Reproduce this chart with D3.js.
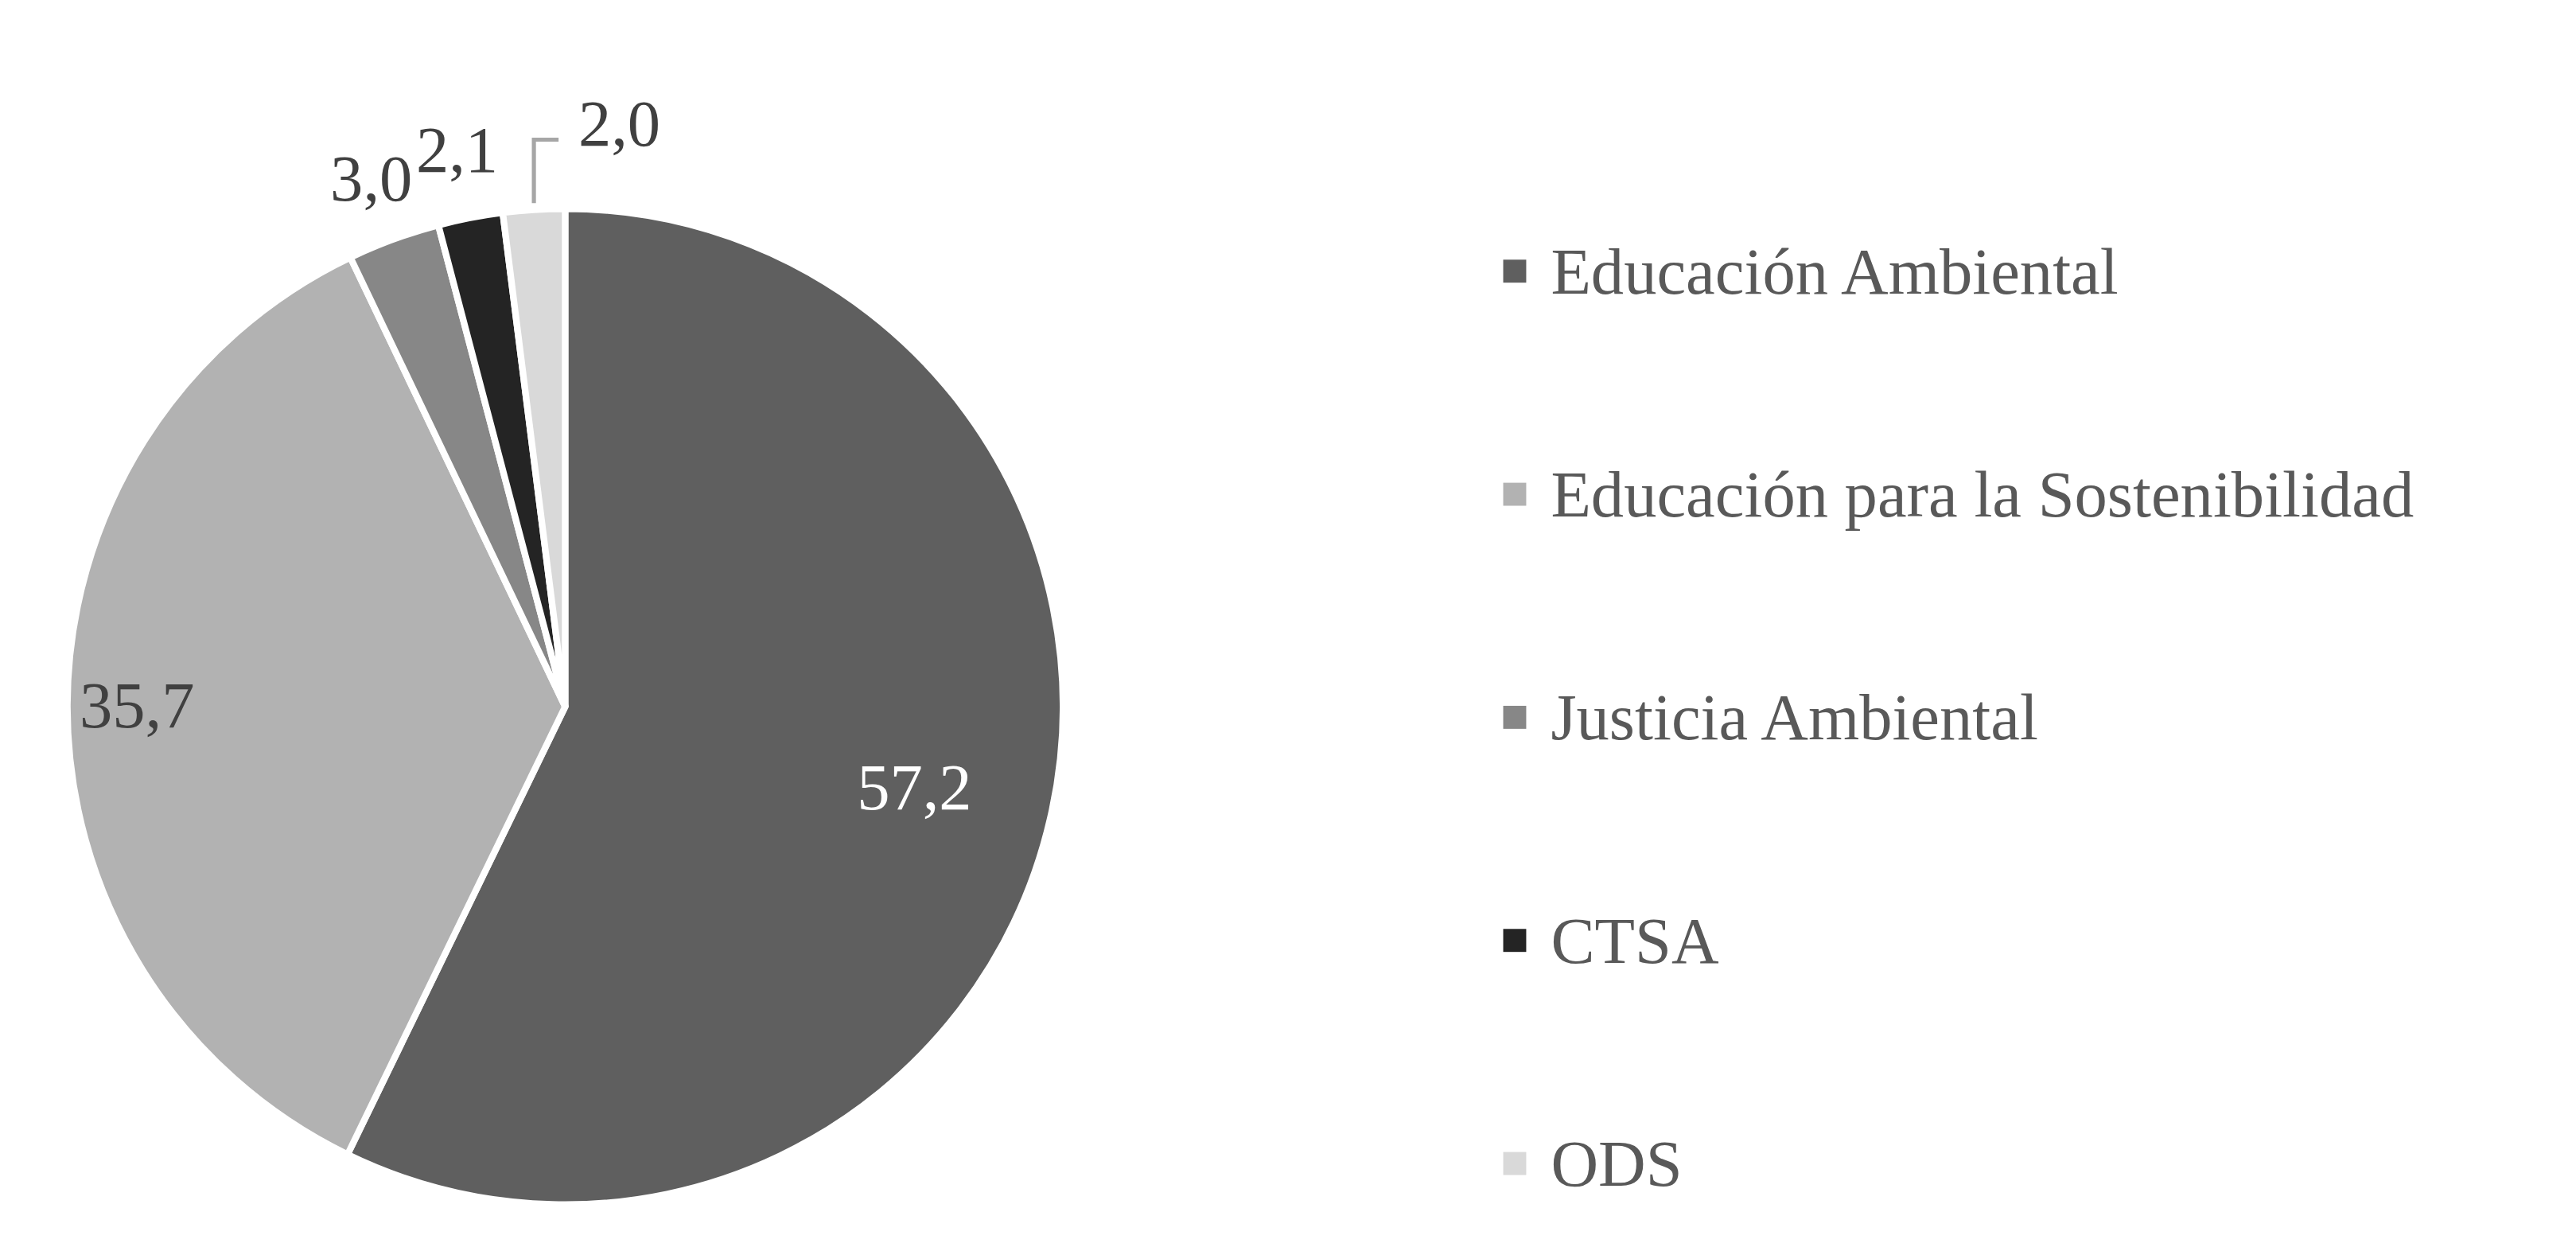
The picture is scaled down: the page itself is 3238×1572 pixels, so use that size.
<!DOCTYPE html>
<html><head><meta charset="utf-8">
<script src="https://cdn.jsdelivr.net/npm/d3@7"></script>
<style>body{margin:0;background:#fff}</style>
</head><body><svg id="chart"></svg>
<script>
const categories = ["Educación Ambiental", "Educación para la Sostenibilidad", "Justicia Ambiental", "CTSA", "ODS"];
const values = [57.2, 35.7, 3.0, 2.1, 2.0];
const colors = ["#5f5f5f", "#b2b2b2", "#878787", "#242424", "#d9d9d9"];
const labels = ["57,2", "35,7", "3,0", "2,1", "2,0"];

const W = 3238, H = 1572, s = W / 1568;
const svg = d3.select("#chart").attr("width", W).attr("height", H);
const cx = 344 * s, cy = 430 * s, r = 303 * s;
const g = svg.append("g").attr("transform", `translate(${cx},${cy})`);

const pie = d3.pie().sort(null).value(d => d);
const arcs = pie(values);
const arc = d3.arc().innerRadius(0).outerRadius(r);

g.selectAll("path").data(arcs).enter().append("path")
  .attr("d", arc)
  .attr("fill", (d, i) => colors[i])
  .attr("stroke", "#fff").attr("stroke-width", 4 * s);

// data labels (positions relative to arc angle)
const font = "'Liberation Serif', 'Times New Roman', serif";
const labelPos = [
  {a: null, rr: 0.72},
  {a: null, rr: 0.86},
  {a: null, rr: 1.13},
  {a: null, rr: 1.13},
];
arcs.forEach((d, i) => {
  const mid = (d.startAngle + d.endAngle) / 2;
  let rr = [0.72, 0.86, 1.13, 1.14, 1.2][i];
  let x = Math.sin(mid) * r * rr, y = -Math.cos(mid) * r * rr;
  if (i === 4) { x = 33 * s; y = -355 * s; }
  g.append("text").attr("x", x).attr("y", y)
    .attr("text-anchor", "middle").attr("dominant-baseline", "central")
    .style("font-family", font).style("font-size", 40 * s + "px")
    .attr("fill", i === 0 ? "#fff" : "#404040")
    .text(labels[i]);
});
// leader line for ODS
{
  const d = arcs[4], mid = (d.startAngle + d.endAngle) / 2;
  const x0 = Math.sin(mid) * r, y0 = -Math.cos(mid) * r;
  g.append("path")
    .attr("d", `M${x0},${y0 - 4 * s}V${-345 * s}H${-4 * s}`)
    .attr("fill", "none").attr("stroke", "#a6a6a6").attr("stroke-width", 2.5 * s);
}

// legend
const leg = svg.append("g");
const ly = d3.scalePoint().domain(categories).range([165 * s, 708 * s]);
categories.forEach((c, i) => {
  const y = ly(c);
  leg.append("rect").attr("x", 915 * s).attr("y", y - 7 * s).attr("width", 14 * s).attr("height", 14 * s).attr("fill", colors[i]);
  leg.append("text").attr("x", 944 * s).attr("y", y).attr("dominant-baseline", "central")
    .style("font-family", font).style("font-size", 40 * s + "px").attr("fill", "#595959").text(c);
});
</script></body></html>
